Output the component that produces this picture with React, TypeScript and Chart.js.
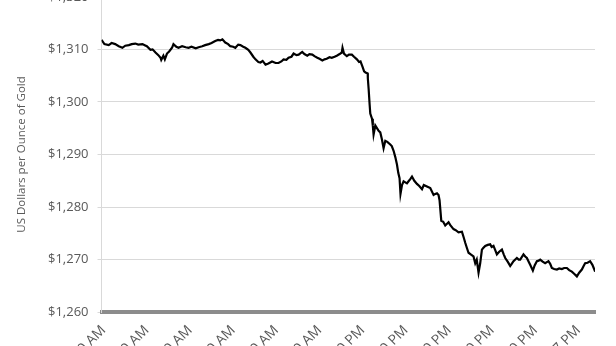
import React, { useEffect, useRef } from "react";
import { Chart, registerables } from "chart.js";

Chart.register(...registerables);

// minutes since session start
const MINUTES = [
  0, 4, 10, 14, 19, 24, 29, 33, 38, 42, 47, 51, 57, 60, 63, 68, 71, 75, 79, 82, 83, 86, 88, 91, 94, 98, 100,
  104, 107, 112, 117, 121, 125, 131, 135, 140, 144, 149, 153, 158, 162, 165, 168, 172, 176, 179, 183, 186,
  190, 193, 197, 200, 204, 207, 211, 214, 218, 221, 224, 228, 232, 237, 242, 246, 250, 253, 257, 260, 264,
  267, 271, 274, 279, 282, 286, 289, 293, 296, 300, 303, 307, 310, 313, 317, 320, 324, 327, 331, 334, 335,
  337, 341, 344, 348, 351, 355, 358, 360, 363, 365, 367, 370, 370.2, 371.3, 372.7, 373.6, 376.0, 377.1,
  378.2, 380.6, 382.9, 385.2, 387.5, 389.6, 392.1, 394.5, 397.3, 401.4, 403.5, 406.0, 408.4, 410.7, 412.5,
  414.3, 415.6, 417.7, 419.9, 424.6, 426.8, 429.2, 431.6, 434.8, 438.5, 441.7, 445.5, 448.0, 452.4, 457.0,
  461.6, 463.9, 466.3, 468.5, 469.9, 472.3, 475.0, 477.8, 482.4, 484.6, 489.3, 492.4, 496.3, 501.0, 503.5,
  505.6, 507.7, 510.2, 513.2, 517.1, 519.5, 521.6, 524.1, 526.4, 528.8, 530.6, 533.4, 536.9, 540.3, 542.4,
  544.9, 547.3, 549.6, 552.8, 556.6, 559.1, 561.2, 564.6, 568.1, 570.2, 572.7, 577.4, 579.9, 582.0, 586.6,
  589.0, 591.3, 593.8, 595.9, 599.6, 602.1, 605.2, 607.7, 609.8, 613.2, 616.7, 621.3, 623.7, 626.0, 629.2,
  633.0, 636.2, 639.9, 643.1, 646.9, 650.1, 653.8, 657.0, 660.8, 664.0, 667.7, 670.2, 672.3, 675.7, 679.2,
  682.4, 684.8, 686.2,
];

// gold price, USD per ounce
const PRICES = [
  1311.8, 1311.0, 1310.8, 1311.2, 1311.0, 1310.6, 1310.3, 1310.7, 1310.8, 1311.0, 1311.1, 1310.9, 1311.0,
  1310.8, 1310.6, 1309.9, 1310.0, 1309.4, 1308.9, 1308.4, 1308.0, 1308.8, 1308.1, 1309.2, 1309.6, 1310.3,
  1311.0, 1310.5, 1310.3, 1310.6, 1310.4, 1310.3, 1310.5, 1310.2, 1310.4, 1310.6, 1310.8, 1311.0, 1311.2,
  1311.6, 1311.8, 1311.7, 1311.9, 1311.3, 1311.0, 1310.6, 1310.5, 1310.3, 1310.9, 1310.8, 1310.5, 1310.3,
  1309.9, 1309.4, 1308.6, 1308.1, 1307.6, 1307.5, 1307.8, 1307.1, 1307.3, 1307.7, 1307.4, 1307.4, 1307.7,
  1308.1, 1308.0, 1308.4, 1308.6, 1309.2, 1308.9, 1309.0, 1309.5, 1309.1, 1308.8, 1309.1, 1309.0, 1308.7,
  1308.4, 1308.2, 1307.9, 1308.1, 1308.2, 1308.5, 1308.4, 1308.6, 1308.8, 1309.1, 1309.4, 1310.3, 1309.2,
  1308.7, 1309.0, 1309.0, 1308.6, 1308.1, 1307.6, 1307.7, 1306.6, 1305.8, 1305.6, 1305.4, 1304.5, 1302.5,
  1299.5, 1297.8, 1296.8, 1295.5, 1293.8, 1295.5, 1295.0, 1294.5, 1294.2, 1293.0, 1291.2, 1292.6, 1292.4,
  1291.9, 1291.6, 1290.7, 1289.5, 1288.1, 1286.5, 1285.5, 1282.5, 1284.2, 1284.9, 1284.5, 1284.9, 1285.3,
  1285.8, 1285.0, 1284.4, 1284.0, 1283.4, 1284.2, 1283.9, 1283.6, 1282.3, 1282.5, 1282.6, 1282.3, 1281.3,
  1277.4, 1277.2, 1276.5, 1277.1, 1276.6, 1275.8, 1275.6, 1275.2, 1275.3, 1274.2, 1273.2, 1272.3, 1271.3,
  1271.0, 1270.6, 1269.3, 1270.0, 1267.5, 1269.3, 1271.9, 1272.2, 1272.6, 1272.8, 1272.9, 1272.4, 1272.6,
  1271.8, 1271.0, 1271.5, 1271.9, 1271.0, 1270.3, 1269.6, 1268.8, 1269.2, 1269.7, 1270.3, 1270.0, 1270.0,
  1271.0, 1270.6, 1270.3, 1269.6, 1269.0, 1267.9, 1268.9, 1269.7, 1269.8, 1270.0, 1269.6, 1269.3, 1269.7,
  1269.2, 1268.4, 1268.2, 1268.1, 1268.3, 1268.2, 1268.4, 1268.4, 1268.0, 1267.7, 1267.3, 1266.8, 1267.5,
  1268.1, 1268.8, 1269.3, 1269.4, 1269.7, 1269.0, 1268.2, 1267.7,
];

const TICK_MINUTES = [3, 63, 123, 183, 243, 303, 363, 423, 483, 543, 603, 663];
const TICK_LABELS = [
  "6:00 AM", "7:00 AM", "8:00 AM", "9:00 AM", "10:00 AM", "11:00 AM",
  "12:00 PM", "1:00 PM", "2:00 PM", "3:00 PM", "4:00 PM", "5:27 PM",
];

const Y_MIN = 1260;
const Y_MAX = 1320;
const Y_STEP = 10;

const FONT = "'Open Sans', 'Liberation Sans', sans-serif";

export default function App() {
  const ref = useRef<HTMLCanvasElement | null>(null);
  useEffect(() => {
    if (!ref.current) return;
    const chart = new Chart(ref.current, {
      type: "line",
      data: {
        datasets: [
          {
            data: MINUTES.map((m, i) => ({ x: m, y: PRICES[i] })),
            borderColor: "#000000",
            borderWidth: 2.2,
            pointRadius: 0,
            tension: 0,
          },
        ],
      },
      options: {
        animation: false,
        responsive: false,
        maintainAspectRatio: false,
        parsing: false as any,
        layout: { padding: { left: 0, right: 21, top: 16.1, bottom: 1 } },
        plugins: { legend: { display: false }, tooltip: { enabled: false } },
        scales: {
          x: {
            type: "linear",
            min: 0,
            max: 686,
            afterBuildTicks: (axis: any) => {
              axis.ticks = TICK_MINUTES.map((v) => ({ value: v }));
            },
            grid: { display: false, drawTicks: false },
            border: { display: true, color: "#8c8c8c", width: 4 },
            ticks: {
              autoSkip: false,
              maxRotation: 45,
              minRotation: 45,
              padding: 10,
              color: "#595959",
              font: { family: FONT, size: 14 },
              callback: (v: any) => {
                const i = TICK_MINUTES.indexOf(Number(v));
                return i >= 0 ? TICK_LABELS[i] : "";
              },
            },
          },
          y: {
            min: Y_MIN,
            max: Y_MAX,
            ticks: {
              stepSize: Y_STEP,
              padding: 9,
              color: "#595959",
              font: { family: FONT, size: 13 },
              callback: (v: any) => "$" + Number(v).toLocaleString("en-US"),
            },
            grid: { color: "#d9d9d9", lineWidth: 1, tickLength: 4, drawTicks: true },
            border: { display: true, color: "#d9d9d9", width: 1 },
            title: {
              display: true,
              text: "US Dollars per Ounce of Gold",
              color: "#595959",
              font: { family: FONT, size: 11.5 },
              padding: { top: 15.1, bottom: 10.1 },
            },
          },
        },
      },
    });
    return () => chart.destroy();
  }, []);
  return (
    <div style={{ position: "absolute", left: 0, top: -20, width: 616, height: 408 }}>
      <canvas ref={ref} width={616} height={408} style={{ display: "block", width: 616, height: 408 }} />
    </div>
  );
}
